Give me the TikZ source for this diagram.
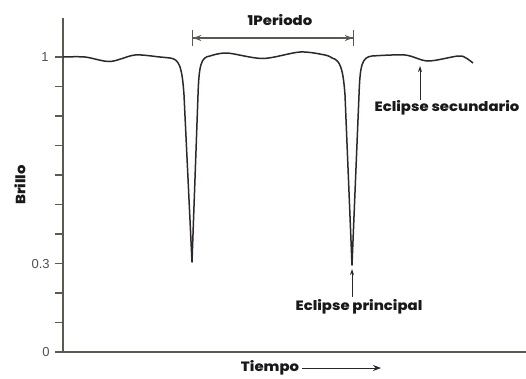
\documentclass[tikz,border=0pt]{standalone}
\usepackage{fontspec}
\setmainfont{Poppins}[BoldFont={Poppins ExtraBold}]
\newfontfamily\numfont{Liberation Sans}
\usetikzlibrary{arrows.meta,positioning}
\definecolor{axisgray}{HTML}{5E5853}
\definecolor{curvedark}{HTML}{2D2630}
\definecolor{numgray}{HTML}{505050}
\newcommand{\wide}[1]{\scalebox{1.1}[1]{#1}}
\begin{document}
\begin{tikzpicture}[x=1pt, y=-1pt, >={Stealth[length=8pt,width=6pt]}, semithick]
        \tikzset{
           lbl/.style={
                        font=\bfseries\fontsize{13.5}{14}\selectfont,
                        text=black!90,
                        inner sep=0pt
                       },
           num/.style={
                        font=\numfont\fontsize{13}{13}\selectfont,
                        text=numgray,
                        inner sep=0pt,
                        anchor=east
                       },
           axis/.style={draw=axisgray, line width=1.6pt},
           pointer/.style={->, draw=curvedark, line width=1pt, >={Stealth[length=6pt,width=4pt]}},
                 };
        \useasboundingbox (0,0) rectangle (526,378);
    %--------------------
        \coordinate (origin) at (63,352);
        \coordinate (ytop)   at (63,18);
        \coordinate (xend)   at (526,352);
        \draw[axis] (55,352) -- (xend);
        \draw[axis, line width=1.2pt] (origin) -- (ytop);
        \foreach \i in {0,...,10}
            \draw[axis, line width=1.2pt] (55,{352-29.5*\i}) -- (63,{352-29.5*\i});
        \node[num] (one)   at (49,57)  {1};
        \node[num] (three) at (50,264) {0.3};
        \node[num] (zero)  at (50,352) {0};
        \node[lbl, rotate=90] (brillo) at (20,185) {\wide{Brillo}};
    %--------------------
        \draw[curvedark, line width=1.5pt, line join=round]
            plot[smooth] coordinates {(63,57) (85,57) (110,61.5) (135,55) (160,57) (170,58)}
            .. controls (179,59) and (182,66) .. (184,95) -- (192,262) -- (198,95)
            .. controls (199,65) and (201,57) .. (210,56)
            plot[smooth] coordinates {(210,56) (227,53) (263,58.5) (300,52) (325,55) (332,58)}
            .. controls (340,60) and (343,68) .. (345,95) -- (352,265) -- (359,95)
            .. controls (360,65) and (362,57) .. (372,56)
            plot[smooth] coordinates {(372,56) (405,55) (428,61) (458,56) (466,58) (473,63)};
    %--------------------
        \coordinate (perA) at (192,38);
        \coordinate (perB) at (354,38);
        \node[lbl] (periodo) at (280,20) {\wide{1Periodo}};
        \node[lbl] (secundario) at (447,108) {\wide{Eclipse secundario}};
        \node[lbl] (principal)  at (359,307) {\wide{Eclipse principal}};
        \node[lbl] (tiempo)     at (270,368) {\wide{Tiempo}};
        \coordinate (secTip)  at (420,66);
        \coordinate (priTip)  at (352,269);
        \coordinate (timeTip) at (381,368);
    %--------------------
        \path (perA)  edge[draw=axisgray, line width=1.2pt,
                           {Bar[width=16pt]Stealth[length=8pt,width=6pt]}-{Stealth[length=8pt,width=6pt]Bar[width=16pt]}] (perB)
              (420,100) edge[pointer] (secTip)
              (352,297) edge[pointer] (priTip)
              (tiempo)  edge[->, draw=curvedark, line width=1pt, shorten <=3pt] (timeTip)
        ;
    \end{tikzpicture}
\end{document}
